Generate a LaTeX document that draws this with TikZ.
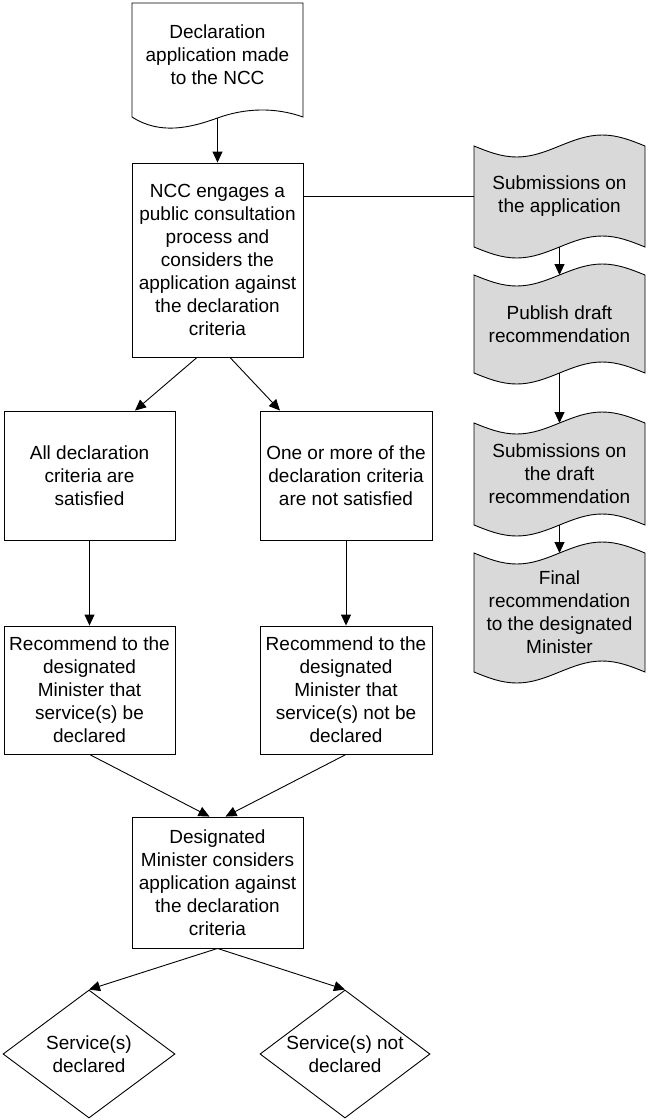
\documentclass[tikz,border=0pt]{standalone}
\usepackage{fontspec}
\setmainfont{Liberation Sans}
\usetikzlibrary{arrows.meta,shapes.geometric}
\begin{document}
\begin{tikzpicture}[x=1pt,y=-1pt,
  every node/.style={font=\fontsize{19}{23}\selectfont, align=center},
  box/.style={draw, line width=0.9pt, inner sep=0pt},
  conn/.style={line width=0.9pt},
  arr/.style={conn, -{Triangle[length=11pt,width=10pt]}},
  tapefill/.style={draw, fill=gray!30, line width=0.9pt},
  docshape/.style={draw, fill=white, line width=0.9pt},
  dia/.style={draw, diamond, line width=0.9pt, inner sep=0pt, minimum width=172pt, minimum height=128pt}]
\useasboundingbox (0,0) rectangle (648,1120);

% document shape
\draw[docshape] (132,3) -- (303,3) -- (303,117)
  .. controls (275,107) and (245,108) .. (217.5,118)
  .. controls (190,128) and (160,135) .. (132,117) -- cycle;
\node (doc) at (217.5,55) {Declaration\\application made\\to the NCC};
\coordinate (docb) at (217.5,118);

% main boxes
\node[box, minimum width=171pt, minimum height=194pt] (ncc) at (217.5,260)
  {NCC engages a\\public consultation\\process and\\considers the\\application against\\the declaration\\criteria};
\node[box, minimum width=171pt, minimum height=129pt] (sat) at (89.5,475.5)
  {All declaration\\criteria are\\satisfied};
\node[box, minimum width=172pt, minimum height=129pt] (nsat) at (346,475.5)
  {One or more of the\\declaration criteria\\are not satisfied};
\node[box, minimum width=171pt, minimum height=128pt] (rec1) at (89.5,690)
  {Recommend to the\\designated\\Minister that\\service(s) be\\declared};
\node[box, minimum width=172pt, minimum height=128pt] (rec2) at (346,690)
  {Recommend to the\\designated\\Minister that\\service(s) not be\\declared};
\node[box, minimum width=171pt, minimum height=131pt] (dm) at (217.5,882.5)
  {Designated\\Minister considers\\application against\\the declaration\\criteria};
\node[dia] (d1) at (89,1054) {};
\node at (d1) {Service(s)\\declared};
\node[dia, minimum width=170pt] (d2) at (345,1054) {};
\node at (d2) {Service(s) not\\declared};

% tapes
\def\tape#1#2{%
  \draw[tapefill] (474,#1) sin (516.75,#1+11) cos (559.5,#1) sin (602.25,#1-11) cos (645,#1)
    -- (645,#2) sin (602.25,#2-11) cos (559.5,#2) sin (516.75,#2+11) cos (474,#2) -- cycle;}
\tape{146}{247}
\tape{275}{373}
\tape{423}{525}
\tape{553}{672}
\node (t1) at (559.5,196.5) {Submissions on\\the application};
\node (t2) at (559.5,324) {Publish draft\\recommendation};
\node (t3) at (559.5,474) {Submissions on\\the draft\\recommendation};
\node (t4) at (559.5,612.5) {Final\\recommendation\\to the designated\\Minister};
\coordinate (t1w) at (474,196);
\coordinate (t1b) at (559.5,247);
\coordinate (t2t) at (559.5,275);
\coordinate (t2b) at (559.5,373);
\coordinate (t3t) at (559.5,423);
\coordinate (t3b) at (559.5,525);
\coordinate (t4t) at (559.5,553);

% connectors
\draw[arr] (docb) -- (ncc.north);
\draw[conn] (ncc.east |- t1w) -- (t1w);
\draw[arr] (t1b) -- (t2t);
\draw[arr] (t2b) -- (t3t);
\draw[arr] (t3b) -- (t4t);
\draw[arr] ([xshift=-20.5pt]ncc.south) -- ([xshift=45.5pt]sat.north);
\draw[arr] ([xshift=12.5pt]ncc.south) -- ([xshift=-66pt]nsat.north);
\draw[arr] (sat.south) -- (rec1.north);
\draw[arr] (nsat.south) -- (rec2.north);
\draw[arr] (rec1.south) -- ([xshift=-8pt]dm.north);
\draw[arr] (rec2.south) -- ([xshift=8pt]dm.north);
\draw[arr] (dm.south) -- (d1.north);
\draw[arr] (dm.south) -- (d2.north);
\end{tikzpicture}
\end{document}
